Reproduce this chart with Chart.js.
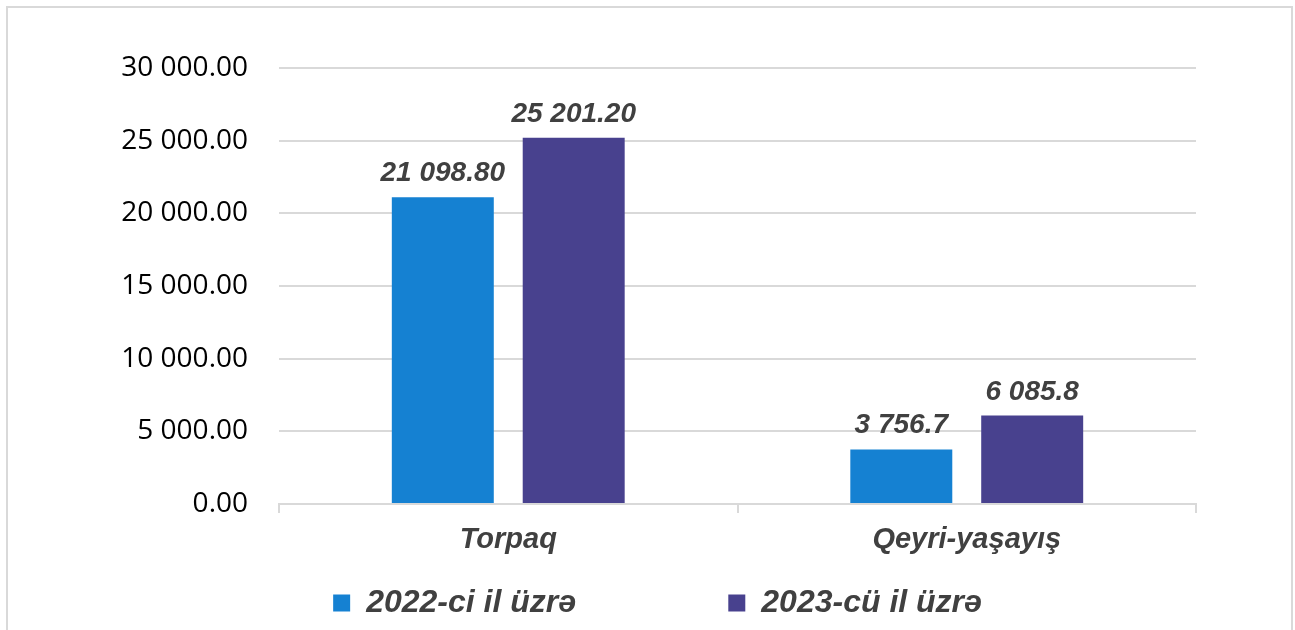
<!DOCTYPE html>
<html>
<head>
<meta charset="utf-8">
<script src="https://cdn.jsdelivr.net/npm/chart.js@4"></script>
<style>
  html, body { margin: 0; padding: 0; background: #fff; overflow: hidden; }
  #wrap { position: relative; width: 1295px; height: 630px; }
  #frame {
    position: absolute; left: 6px; top: 6px; width: 1283px; height: 700px;
    border: 2px solid #d9d9d9; pointer-events: none;
  }
  canvas { position: absolute; left: 0; top: 0; }
</style>
</head>
<body>
<div id="wrap">
  <canvas id="chart" width="1295" height="630"></canvas>
  <div id="frame"></div>
</div>
<script>
// ── Data ──────────────────────────────────────────────────
const categories   = ['Torpaq', 'Qeyri-yaşayış'];
const labelDigits  = [2, 1];                      // decimals shown in bar labels per category
const series2022   = [21098.80, 3756.7];
const series2023   = [25201.20, 6085.8];
const seriesNames  = ['2022-ci il üzrə', '2023-cü il üzrə'];
const yTicks       = [0, 5000, 10000, 15000, 20000, 25000, 30000];

const BLUE   = '#1581d2';
const PURPLE = '#48418e';
const GRID   = '#d9d9d9';
const TEXT   = '#404040';
const BOLD_IT = { family: '"Liberation Sans", Arial, sans-serif', style: 'italic', weight: 'bold' };

// "30 000.00" style: space for thousands, dot for decimals
function fmt(v, digits) {
  const [int, dec] = v.toFixed(digits).split('.');
  const grouped = int.replace(/\B(?=(\d{3})+(?!\d))/g, ' ');
  return dec ? grouped + '.' + dec : grouped;
}

// ── Bar value labels ──────────────────────────────────────
const barLabels = {
  id: 'barLabels',
  afterDatasetsDraw(chart) {
    const ctx = chart.ctx;
    ctx.save();
    ctx.font = 'italic bold 28px "Liberation Sans", Arial, sans-serif';
    ctx.fillStyle = TEXT;
    ctx.textAlign = 'center';
    ctx.textBaseline = 'alphabetic';
    chart.data.datasets.forEach((ds, di) => {
      chart.getDatasetMeta(di).data.forEach((bar, i) => {
        ctx.fillText(fmt(ds.data[i], labelDigits[i]), bar.x, bar.y - 16);
      });
    });
    ctx.restore();
  }
};

new Chart(document.getElementById('chart').getContext('2d'), {
  type: 'bar',
  data: {
    labels: categories,
    datasets: [
      { label: seriesNames[0], data: series2022, backgroundColor: BLUE,   borderWidth: 0 },
      { label: seriesNames[1], data: series2023, backgroundColor: PURPLE, borderWidth: 0 },
    ],
  },
  options: {
    responsive: false,
    animation: false,
    categoryPercentage: 0.571,
    barPercentage: 0.779,
    layout: { padding: { top: 68, bottom: 1, left: 20, right: 0 } },
    scales: {
      x: {
        grid:   { drawOnChartArea: false, drawTicks: true, tickLength: 9, color: GRID, lineWidth: 2 },
        border: { display: true, color: GRID, width: 2 },
        ticks:  { color: TEXT, padding: 10, font: { ...BOLD_IT, size: 29 } },
        afterFit: s => { s.height = 73; },
      },
      y: {
        min: 0, max: 30000,
        afterBuildTicks: s => { s.ticks = yTicks.map(v => ({ value: v })); },
        grid:   { color: GRID, lineWidth: 2, drawTicks: false },
        border: { display: false },
        ticks:  {
          color: '#000', padding: 31,
          font: { family: '"Open Sans", sans-serif', size: 28 },
          callback: v => fmt(v, 2),
        },
        afterFit: s => { s.width = 259; },
      },
      // empty right-hand axis, only reserves the margin right of the plot
      yRight: {
        position: 'right',
        grid:   { drawOnChartArea: false, drawTicks: false },
        border: { display: false },
        ticks:  { display: false },
        afterFit: s => { s.width = 99; },
      },
    },
    plugins: {
      tooltip: { enabled: false },
      legend: {
        position: 'bottom',
        labels: {
          color: TEXT, boxWidth: 17, boxHeight: 17, padding: 10,
          font: { ...BOLD_IT, size: 32 },
          generateLabels(chart) {
            const items = Chart.defaults.plugins.legend.labels.generateLabels(chart);
            items[0].text += ' '.repeat(16);   // wide gap between the two entries
            return items;
          },
        },
      },
    },
  },
  plugins: [barLabels],
});
</script>
</body>
</html>
